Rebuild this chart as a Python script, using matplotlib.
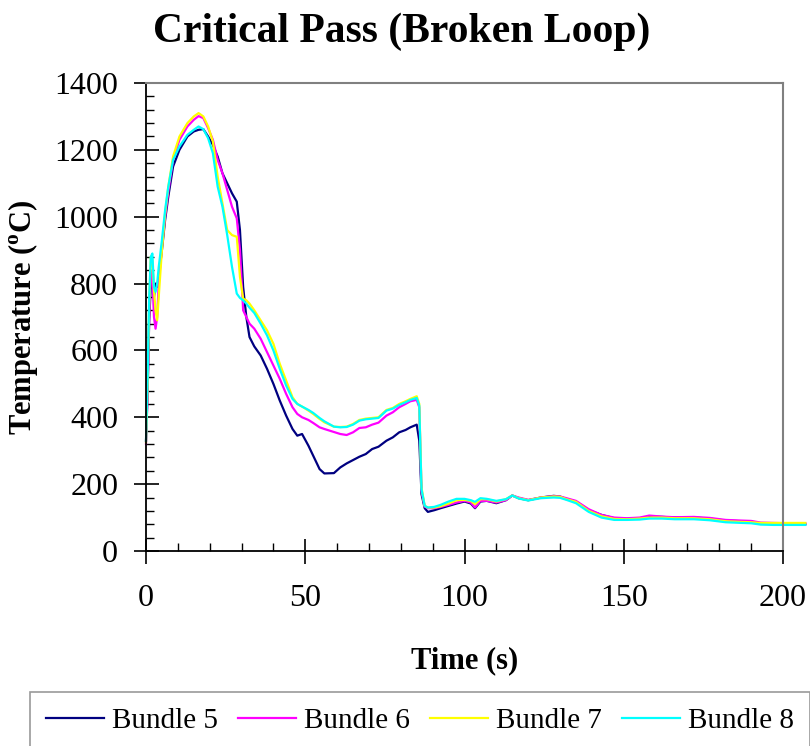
import matplotlib
matplotlib.use("Agg")
import matplotlib.pyplot as plt
from matplotlib.ticker import MultipleLocator

plt.rcParams['font.family'] = ['Liberation Serif', 'DejaVu Serif']
plt.rcParams['mathtext.fontset'] = 'custom'
plt.rcParams['mathtext.rm'] = 'Liberation Serif'
plt.rcParams['mathtext.bf'] = 'Liberation Serif:bold'

# time grid (s)
time_s = [0, 0.5, 1, 1.5, 2, 2.5, 3, 3.5, 4, 5,
          6, 7, 8.5, 10.5, 13, 15, 16.5, 18, 19.5, 21,
          22.5, 24, 25.5, 27, 28.5, 29.5, 30.5, 31.5, 32.5, 34,
          36, 38, 40, 42, 44, 46, 47.5, 49, 51, 52.5,
          54.5, 56, 59, 61, 63, 65, 67, 69, 71, 73,
          75.5, 77.5, 79.5, 81.5, 83, 85, 85.8, 86.5, 87.5, 88.5,
          90.5, 92.5, 95, 97.5, 100, 102, 103.3, 105, 107, 110,
          113, 115, 117, 120, 124, 128, 130, 132, 135, 139,
          143, 147, 151, 155, 158, 162, 166, 172, 177, 182,
          187, 190, 193, 197, 202, 207]

bundle5 = [330, 470, 690, 790, 800, 760, 800, 790, 820, 900,
           990, 1060, 1150, 1200, 1240, 1255, 1260, 1262, 1240, 1215,
           1180, 1130, 1100, 1070, 1045, 960, 790, 700, 640, 612,
           585, 545, 500, 450, 405, 365, 345, 350, 315, 285,
           245, 232, 233, 250, 262, 272, 282, 290, 305, 312,
           330, 340, 355, 362, 370, 378, 330, 170, 128, 117,
           122, 128, 135, 142, 148, 142, 128, 148, 150, 143,
           152, 166, 158, 152, 160, 165, 163, 155, 148, 122,
           108, 98, 96, 98, 103, 102, 100, 100, 97, 91,
           89, 88, 82, 81, 80, 80]

bundle6 = [320, 480, 700, 840, 820, 700, 665, 700, 800, 910,
           1000, 1075, 1170, 1230, 1270, 1290, 1301, 1295, 1265, 1230,
           1170, 1130, 1080, 1030, 995, 900, 720, 700, 680, 665,
           635, 595, 555, 515, 470, 430, 410, 400, 392, 383,
           370, 365, 356, 350, 347, 355, 368, 370, 378, 384,
           405, 415, 430, 440, 448, 452, 430, 180, 133, 128,
           128, 132, 138, 145, 150, 145, 130, 150, 150, 145,
           152, 166, 160, 153, 160, 164, 163, 158, 150, 125,
           108, 100, 98, 100, 106, 103, 101, 102, 99, 93,
           91, 90, 85, 84, 83, 83]

bundle7 = [325, 500, 740, 880, 870, 780, 720, 690, 760, 900,
           1010, 1090, 1180, 1240, 1280, 1300, 1310, 1300, 1270, 1225,
           1120, 1040, 960, 945, 940, 820, 755, 750, 740, 720,
           690, 660, 620, 560, 510, 460, 440, 432, 420, 410,
           395, 385, 372, 371, 372, 380, 392, 396, 398, 400,
           422, 428, 440, 448, 455, 463, 440, 190, 135, 130,
           130, 134, 142, 152, 153, 150, 140, 155, 155, 148,
           155, 166, 158, 152, 160, 163, 162, 155, 147, 120,
           104, 96, 95, 97, 100, 100, 98, 98, 95, 89,
           87, 86, 84, 84, 84, 84]

bundle8 = [330, 520, 760, 880, 890, 790, 775, 800, 850, 930,
           1020, 1090, 1170, 1210, 1245, 1260, 1270, 1262, 1235, 1190,
           1090, 1030, 945, 850, 770, 757, 750, 740, 728, 712,
           680, 645, 600, 545, 495, 455, 440, 432, 422, 413,
           398, 388, 372, 370, 371, 378, 390, 394, 396, 398,
           420, 426, 437, 445, 452, 458, 435, 185, 135, 130,
           132, 138, 148, 156, 156, 152, 147, 158, 156, 150,
           155, 166, 157, 151, 158, 160, 159, 153, 143, 117,
           100, 93, 93, 94, 97, 97, 95, 95, 92, 86,
           84, 83, 79, 78, 78, 78]

series = [('Bundle 5', bundle5, '#000080'),
          ('Bundle 6', bundle6, '#FF00FF'),
          ('Bundle 7', bundle7, '#FFFF00'),
          ('Bundle 8', bundle8, '#00FFFF')]

fig = plt.figure(figsize=(8.1, 7.46), dpi=100)
ax = fig.add_axes([146/810, 1 - 551/746, (783 - 146)/810, (551 - 83)/746])

for name, vals, col in series:
    ax.plot(time_s, vals, color=col, lw=1.6, label=name, clip_on=False)

ax.set_xlim(0, 200)
ax.set_ylim(0, 1400)
ax.xaxis.set_major_locator(MultipleLocator(50))
ax.xaxis.set_minor_locator(MultipleLocator(10))
ax.yaxis.set_major_locator(MultipleLocator(200))
ax.yaxis.set_minor_locator(MultipleLocator(40))
ax.tick_params(which='major', direction='inout', length=18, width=1.2, labelsize=23)
ax.tick_params(which='minor', direction='in', length=6, width=1.0)
ax.tick_params(axis='y', which='major', pad=11)
ax.tick_params(axis='x', which='major', pad=15)

for s in ['left', 'bottom']:
    ax.spines[s].set_color('black')
    ax.spines[s].set_linewidth(1.3)
for s in ['top', 'right']:
    ax.spines[s].set_color('#808080')
    ax.spines[s].set_linewidth(1.5)

fig.text(402/810, 1 - 42/746, 'Critical Pass (Broken Loop)', fontsize=30,
         fontweight='bold', ha='center', va='baseline')
ax.set_xlabel('Time (s)', fontsize=22, fontweight='bold', labelpad=24)
ax.set_ylabel(r'Temperature ($^{\mathbf{o}}$C)', fontsize=22, fontweight='bold', labelpad=10)

leg = fig.legend(loc='upper left', bbox_to_anchor=(30/810, 1 - 692/746), ncol=4,
                 fontsize=21, frameon=True, fancybox=False, edgecolor='#808080',
                 handlelength=2.0, handletextpad=0.25, columnspacing=0.7,
                 borderpad=0.55, borderaxespad=0)
leg.get_frame().set_linewidth(1.2)

fig.savefig('out.png', dpi=100, facecolor='white')
